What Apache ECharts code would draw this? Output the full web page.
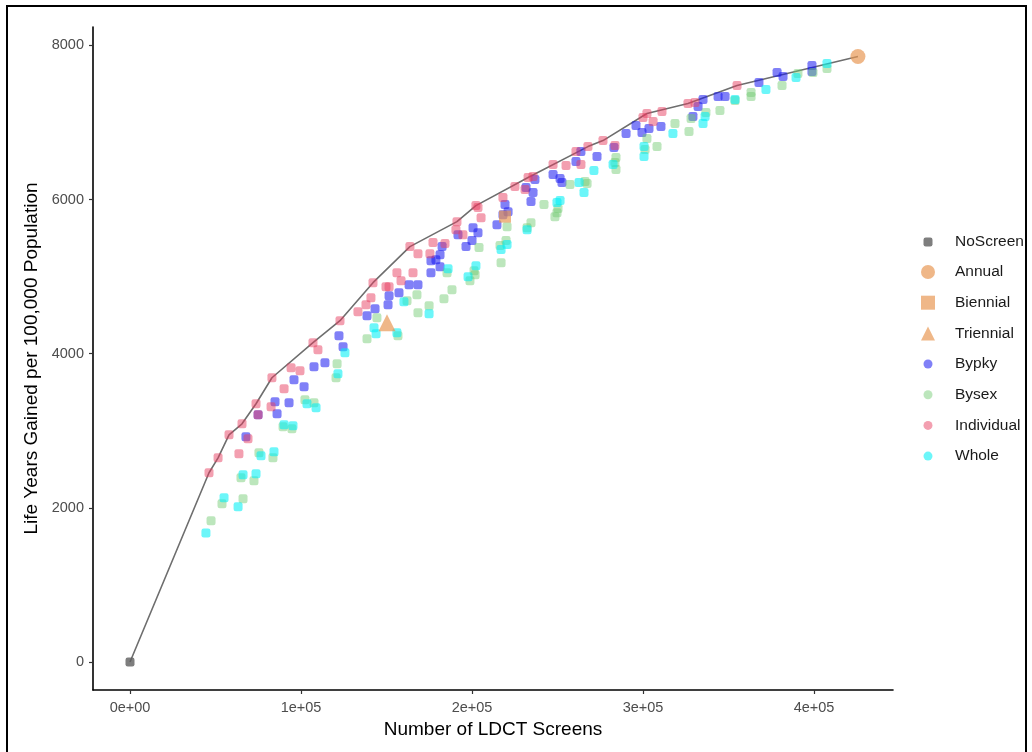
<!DOCTYPE html>
<html>
<head>
<meta charset="utf-8">
<script src="https://cdn.jsdelivr.net/npm/echarts@6/dist/echarts.min.js"></script>
<style>
  html, body { margin: 0; padding: 0; background: #fff; }
  #chart { width: 1032px; height: 752px; }
</style>
</head>
<body>
<div id="chart"></div>
<script>
// Axis ticks
const xTicks = [0, 100000, 200000, 300000, 400000];
const yTicks = [0, 2000, 4000, 6000, 8000];

// Strategy points: [LDCT screens, life years gained per 100,000]
const noScreen  = [[0, 0]];
const annual    = [[425700, 7857]];
const biennial  = [[219300, 5779]];
const triennial = [[150300, 4403]];

const bypky = [
  [67800,2922],[74900,3208],[84800,3377],[86000,3221],[93000,3364],[95900,3662],[101800,3571],
  [107600,3831],[114000,3883],[122200,4234],[124600,4091],[138600,4494],[143300,4584],[150900,4636],
  [151500,4753],[157300,4792],[163200,4896],[168400,4896],[176000,5052],[176000,5208],[178900,5221],
  [181300,5286],[181300,5130],[182500,5390],[191800,5545],[196500,5390],[200000,5468],[200600,5636],
  [203500,5571],[214600,5675],[218100,5805],[219300,5935],[221100,5844],[231600,6156],[234500,5974],
  [235700,6091],[236800,6260],[247400,6325],[251500,6273],[252600,6221],[260800,6494],[263700,6623],
  [273100,6558],[283000,6675],[290100,6857],[295900,6961],[299400,6870],[303500,6922],[310500,6948],
  [329200,7078],[332200,7208],[335100,7299],[343900,7338],[348000,7338],[367800,7519],[378400,7649],
  [381900,7597],[398800,7740],[398800,7662]
];

const bysex = [
  [47400,1831],[53800,2052],[66100,2117],[64900,2390],[72500,2351],[75400,2714],[83600,2649],
  [89500,3052],[94700,3026],[102300,3403],[107600,3364],[121100,3870],[120500,3688],[138600,4195],
  [144400,4468],[156700,4234],[162000,4688],[167800,4766],[168400,4532],[174900,4623],[183600,4714],
  [185400,5052],[188300,4831],[201200,5078],[201800,5026],[198800,4948],[204100,5377],[216400,5403],
  [217000,5182],[219900,5468],[220500,5649],[232200,5636],[234500,5701],[242100,5935],[248500,5779],
  [249700,5831],[250300,5883],[257300,6195],[266100,6234],[267300,6208],[284200,6545],[283600,6480],
  [284200,6390],[302300,6792],[308200,6688],[301200,6649],[318700,6987],[326900,6883],[328100,7052],
  [336800,7130],[345000,7156],[353800,7286],[363200,7390],[363200,7338],[381300,7481],[390600,7636],
  [399400,7649],[407600,7701]
];

const individual = [
  [46200,2455],[51500,2649],[57900,2948],[63700,2701],[65500,3091],[69000,2896],[73700,3351],
  [74900,3208],[82500,3312],[83000,3688],[90100,3545],[94200,3818],[99400,3779],[107000,4143],
  [109900,4052],[122800,4429],[133300,4545],[138000,4636],[140900,4727],[142100,4922],[149700,4870],
  [151500,4870],[156100,5052],[158500,4948],[165500,5052],[163700,5390],[168400,5299],[175400,5299],
  [177200,5442],[184200,5429],[190600,5610],[191200,5714],[194700,5545],[202300,5922],[203500,5896],
  [205300,5766],[218100,6026],[225100,6169],[231000,6130],[232800,6286],[235700,6299],[247400,6455],
  [255000,6442],[260800,6623],[263700,6455],[267800,6688],[276600,6766],[283600,6701],[300000,7065],
  [302300,7117],[305900,7013],[311100,7143],[326300,7247],[330400,7260],[355000,7481]
];

const whole = [
  [44400,1675],[55000,2130],[63200,2013],[66100,2429],[73700,2442],[76600,2675],[84200,2727],
  [90100,3078],[95300,3065],[103500,3351],[108800,3299],[121600,3740],[125700,4013],[142700,4338],
  [143900,4260],[156100,4273],[160200,4675],[174900,4519],[186000,5104],[197700,5000],[202300,5143],
  [217000,5351],[220500,5416],[232200,5610],[249700,5961],[251500,5987],[262600,6221],[265500,6091],
  [271300,6377],[282500,6455],[300600,6688],[300600,6558],[317500,6857],[335100,6987],[336300,7078],
  [353800,7299],[371900,7429],[389500,7584],[407600,7766]
];

// Efficient frontier from no screening to annual screening
const frontier = [
  [0,0],[46200,2455],[51500,2649],[57900,2948],[65500,3091],[73700,3351],[83000,3688],
  [107000,4143],[122800,4429],[142100,4922],[163700,5390],[191200,5714],[202300,5922],
  [232800,6286],[267800,6688],[276600,6766],[302300,7117],[326300,7247],[355000,7481],[425700,7857]
];

const FONT = '"Liberation Sans", Arial, Helvetica, sans-serif';
const ORANGE = 'rgba(232,150,80,0.85)';

function sci(v) {
  if (v === 0) return '0e+00';
  const e = Math.floor(Math.log10(Math.abs(v)));
  const m = Math.round(v / Math.pow(10, e));
  return m + 'e+' + (e < 10 ? '0' + e : e);
}

function pts(name, data, color, symbol, size) {
  return {
    name: name, type: 'scatter', data: data, symbol: symbol, symbolSize: size,
    itemStyle: { color: color }, emphasis: { disabled: true }, z: 3
  };
}

const chart = echarts.init(document.getElementById('chart'), null, { renderer: 'canvas' });

const legendText = { fontFamily: FONT, fontSize: 15.5, color: '#1a1a1a', lineHeight: 16 };

chart.setOption({
  animation: false,
  backgroundColor: '#fff',
  textStyle: { fontFamily: FONT },
  grid: { left: 93, right: 139, top: 27, bottom: 62, containLabel: false },
  graphic: [{
    type: 'rect', silent: true, z: 100,
    shape: { x: 7, y: 6, width: 1019, height: 760 },
    style: { fill: 'none', stroke: '#000', lineWidth: 2 }
  }],
  legend: [
    {
      data: ['NoScreen'], orient: 'vertical', left: 923.5, top: 234, padding: 0,
      itemWidth: 9, itemHeight: 9, itemGap: 14.7, selectedMode: false,
      textStyle: Object.assign({ padding: [0, 0, 0, 17.5] }, legendText)
    },
    {
      data: [
        { name: 'Annual', icon: 'circle' },
        { name: 'Biennial', icon: 'rect' },
        { name: 'Triennial', icon: 'triangle' }
      ],
      orient: 'vertical', left: 921, top: 264, padding: 0,
      itemWidth: 14, itemHeight: 14, itemGap: 14.7, selectedMode: false,
      textStyle: Object.assign({ padding: [0, 0, 0, 15] }, legendText)
    },
    {
      data: ['Bypky', 'Bysex', 'Individual', 'Whole'],
      orient: 'vertical', left: 923.5, top: 356, padding: 0,
      itemWidth: 9, itemHeight: 9, itemGap: 14.7, selectedMode: false,
      icon: 'circle',
      textStyle: Object.assign({ padding: [0, 0, 0, 17.5] }, legendText)
    }
  ],
  xAxis: {
    type: 'value', min: -21640, max: 446200,
    name: 'Number of LDCT Screens', nameLocation: 'middle', nameGap: 28,
    nameTextStyle: { fontFamily: FONT, fontSize: 19, color: '#000' },
    splitLine: { show: false },
    axisLine: { onZero: false, lineStyle: { color: '#000', width: 1.6 } },
    axisTick: { length: 4, customValues: xTicks, lineStyle: { color: '#333', width: 1.2 } },
    axisLabel: { customValues: xTicks, formatter: sci, margin: 10,
                 fontFamily: FONT, fontSize: 14.5, color: '#4d4d4d' }
  },
  yAxis: {
    type: 'value', min: -364, max: 8240,
    name: 'Life Years Gained per 100,000 Population', nameLocation: 'middle', nameGap: 49,
    nameTextStyle: { fontFamily: FONT, fontSize: 19, color: '#000' },
    splitLine: { show: false },
    axisLine: { onZero: false, lineStyle: { color: '#000', width: 1.6 } },
    axisTick: { length: 4, customValues: yTicks, lineStyle: { color: '#333', width: 1.2 } },
    axisLabel: { customValues: yTicks, margin: 9, formatter: function (v) { return String(v); },
                 fontFamily: FONT, fontSize: 14.5, color: '#4d4d4d' }
  },
  series: [
    {
      name: 'frontier', type: 'line', data: frontier, symbol: 'none',
      lineStyle: { color: '#6e6e6e', width: 1.6 }, z: 2, silent: true,
      emphasis: { disabled: true }
    },
    pts('Bypky', bypky, 'rgba(20,20,240,0.68)', 'roundRect', 9),
    pts('Bysex', bysex, 'rgba(110,200,110,0.58)', 'roundRect', 9),
    pts('Individual', individual, 'rgba(230,60,95,0.62)', 'roundRect', 9),
    pts('Whole', whole, 'rgba(0,240,245,0.72)', 'roundRect', 9),
    pts('NoScreen', noScreen, '#5e5e5e', 'roundRect', 9),
    pts('Annual', annual, ORANGE, 'circle', 15),
    pts('Biennial', biennial, ORANGE, 'rect', 12),
    pts('Triennial', triennial, ORANGE, 'triangle', 17)
  ]
});
</script>
</body>
</html>
